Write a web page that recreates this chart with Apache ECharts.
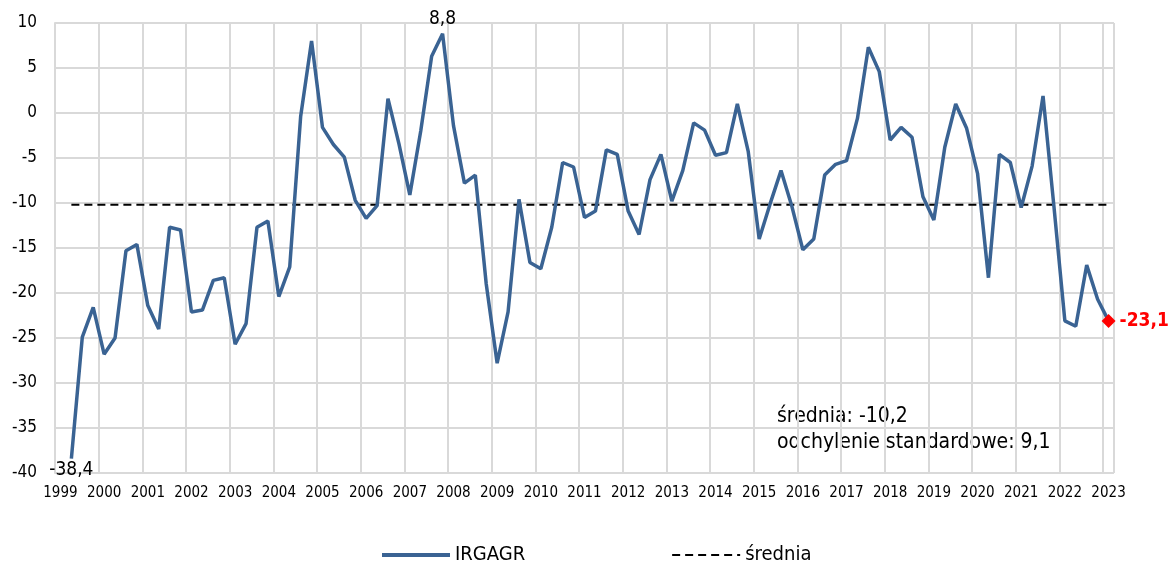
<!DOCTYPE html>
<html>
<head>
<meta charset="utf-8">
<script src="https://cdn.jsdelivr.net/npm/echarts@6/dist/echarts.min.js"></script>
<style>
  html, body { margin: 0; padding: 0; background: #fff; }
  #main { width: 1174px; height: 562px; }
</style>
</head>
<body>
<div id="main"></div>
<script>
// years on the axis, one label per year (placed on Q1)
var years = [1999, 2000, 2001, 2002, 2003, 2004, 2005, 2006, 2007, 2008, 2009, 2010,
  2011, 2012, 2013, 2014, 2015, 2016, 2017, 2018, 2019, 2020, 2021, 2022, 2023];

// IRGAGR, quarterly, 1999 Q1 .. 2023 Q1 (1999 Q1 has no value)
var irgagr = [
  null, -38.4, -24.9, -21.6,   // 1999
  -26.8, -25.0, -15.3, -14.6,  // 2000
  -21.4, -24.0, -12.7, -13.0,  // 2001
  -22.1, -21.9, -18.6, -18.3,  // 2002
  -25.7, -23.4, -12.7, -12.0,  // 2003
  -20.4, -17.1, -0.4, 8.0,     // 2004
  -1.6, -3.5, -4.9, -9.7,      // 2005
  -11.7, -10.3, 1.6, -3.4,     // 2006
  -9.1, -2.0, 6.3, 8.8,        // 2007
  -1.4, -7.8, -6.9, -19.0,     // 2008
  -27.8, -22.1, -9.6, -16.6,   // 2009
  -17.3, -12.7, -5.5, -6.0,    // 2010
  -11.6, -10.9, -4.1, -4.6,    // 2011
  -10.9, -13.5, -7.4, -4.6,    // 2012
  -9.8, -6.4, -1.1, -1.9,      // 2013
  -4.7, -4.4, 1.0, -4.3,       // 2014
  -14.0, -10.1, -6.4, -10.4,   // 2015
  -15.2, -14.0, -6.9, -5.7,    // 2016
  -5.3, -0.6, 7.3, 4.6,        // 2017
  -3.0, -1.6, -2.7, -9.3,      // 2018
  -11.9, -3.8, 1.0, -1.7,      // 2019
  -6.7, -18.3, -4.6, -5.5,     // 2020
  -10.5, -5.9, 1.9, -10.4,     // 2021
  -23.1, -23.7, -16.9, -20.7,  // 2022
  -23.1                        // 2023
];

var meanValue = -10.2;
var stdValue = 9.1;

var yTicks = { min: -40, max: 10, step: 5 };

// quarter categories built from the years
var categories = [];
years.forEach(function (y) {
  for (var q = 1; q <= 4; q++) {
    if (categories.length < irgagr.length) categories.push(y + ' Q' + q);
  }
});

function fmt(v) {
  return String(v).replace('.', ',');
}

var FONT = '"DejaVu Sans Condensed", "DejaVu Sans", sans-serif';
var lastIdx = irgagr.length - 1;
var minIdx = 1, maxIdx = 0;
irgagr.forEach(function (v, i) {
  if (v === null) return;
  if (v < irgagr[minIdx]) minIdx = i;
  if (irgagr[maxIdx] === null || v > irgagr[maxIdx]) maxIdx = i;
});

var lineData = irgagr.map(function (v, i) {
  if (i === minIdx) {
    return { value: v, symbol: 'circle', symbolSize: 0,
      label: { show: true, position: 'bottom', distance: 2, formatter: fmt(v),
        fontSize: 19, color: '#000', fontFamily: FONT } };
  }
  if (i === maxIdx) {
    return { value: v, symbol: 'circle', symbolSize: 0,
      label: { show: true, position: 'top', distance: 5, formatter: fmt(v),
        fontSize: 19, color: '#000', fontFamily: FONT } };
  }
  if (i === lastIdx) {
    return { value: v, symbol: 'diamond', symbolSize: 14,
      itemStyle: { color: '#ff0000' },
      label: { show: true, position: 'right', distance: 4, formatter: fmt(v),
        fontSize: 19, fontWeight: 'bold', color: '#ff0000', fontFamily: FONT } };
  }
  return v;
});

var meanData = irgagr.map(function (v) { return v === null ? null : meanValue; });

var myChart = echarts.init(document.getElementById('main'));

var option = {
  animation: false,
  textStyle: { fontFamily: FONT },
  grid: { left: 55, right: 60, top: 23, height: 450 },
  legend: {
    data: [
      { name: 'IRGAGR', lineStyle: { width: 4 } },
      { name: 'średnia', lineStyle: { width: 2 } }
    ],
    left: 380,
    top: 545,
    padding: 0,
    itemWidth: 68,
    itemHeight: 14,
    itemGap: 146,
    itemStyle: { opacity: 0 },
    textStyle: { fontSize: 20, color: '#000', fontFamily: FONT }
  },
  xAxis: {
    type: 'category',
    data: categories,
    boundaryGap: true,
    axisLine: { lineStyle: { color: '#d9d9d9', width: 2 } },
    axisTick: { show: false, interval: 3 },
    axisLabel: {
      interval: 3,
      margin: 13,
      fontSize: 15,
      color: '#000',
      fontFamily: FONT,
      formatter: function (v) { return v.slice(0, 4); }
    },
    splitLine: {
      show: true,
      interval: function (index) { return index % 4 === 0 && index < categories.length; },
      lineStyle: { color: '#d9d9d9', width: 2 }
    }
  },
  yAxis: {
    type: 'value',
    min: yTicks.min,
    max: yTicks.max,
    interval: yTicks.step,
    axisLine: { show: true, lineStyle: { color: '#d9d9d9', width: 2 } },
    axisTick: { show: false },
    axisLabel: { fontSize: 17, color: '#000', margin: 18, fontFamily: FONT },
    splitLine: { lineStyle: { color: '#d9d9d9', width: 2 } }
  },
  series: [
    {
      name: 'IRGAGR',
      type: 'line',
      data: lineData,
      symbol: 'none',
      showSymbol: true,
      connectNulls: false,
      color: '#3a6393',
      lineStyle: { color: '#3a6393', width: 3.5 },
      z: 3
    },
    {
      name: 'średnia',
      type: 'line',
      data: meanData,
      symbol: 'none',
      color: '#000',
      lineStyle: { color: '#000', width: 2, type: [8, 5] },
      z: 2
    }
  ],
  graphic: [
    {
      type: 'text', left: 777, top: 406,
      style: { text: 'średnia: ' + fmt(meanValue), font: '21px ' + FONT, fill: '#000' }
    },
    {
      type: 'text', left: 777, top: 432,
      style: { text: 'odchylenie standardowe: ' + fmt(stdValue), font: '21px ' + FONT, fill: '#000' }
    }
  ]
};

myChart.setOption(option);
</script>
</body>
</html>
